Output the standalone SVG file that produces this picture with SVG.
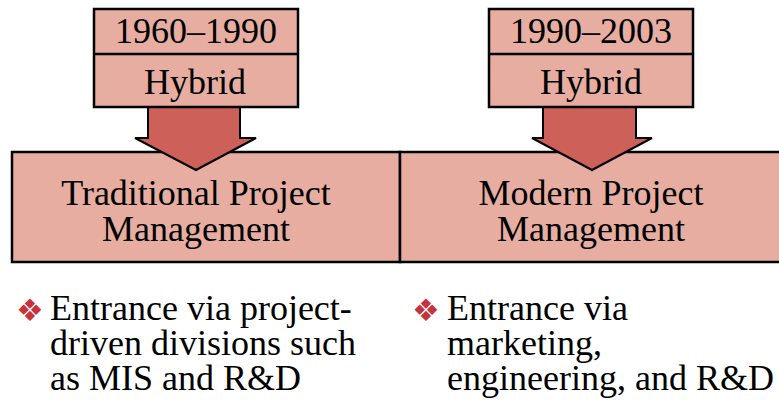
<svg xmlns="http://www.w3.org/2000/svg" width="779" height="403" viewBox="0 0 779 403">
<style>
.box{fill:#E7ADA1;stroke:#000;stroke-width:2.5}
.arrow{fill:#CD6159;stroke:#000;stroke-width:2;stroke-linejoin:miter}
.t{font-family:"Liberation Serif","Times New Roman",serif;font-size:36px;fill:#000}
.c{text-anchor:middle}
.b{font-family:"DejaVu Sans",sans-serif;font-size:31px;fill:#C8323A;text-anchor:middle}
</style>
<rect width="779" height="403" fill="#fff"/>
<g id="traditional">
<rect class="box" x="12" y="152" width="388" height="110"/>
<text class="t c" x="196" y="205">Traditional Project</text>
<text class="t c" x="196" y="241">Management</text>
</g>
<g id="modern">
<rect class="box" x="400" y="152" width="392" height="110"/>
<text class="t c" x="591" y="205">Modern Project</text>
<text class="t c" x="591" y="241">Management</text>
</g>
<g id="connectors">
<polygon class="arrow" points="148,107 240,107 240,138 256,138 196,170 135,138 148,138"/>
<polygon class="arrow" points="543,107 636,107 636,138 652,138 592,170 532,138 543,138"/>
</g>
<g id="hybrid1">
<rect class="box" x="94" y="9" width="204" height="98"/>
<line x1="94" y1="54" x2="298" y2="54" stroke="#000" stroke-width="2.5"/>
<text class="t c" x="196" y="43">1960–1990</text>
<text class="t c" x="195" y="94">Hybrid</text>
</g>
<g id="hybrid2">
<rect class="box" x="489" y="9" width="204" height="98"/>
<line x1="489" y1="54" x2="693" y2="54" stroke="#000" stroke-width="2.5"/>
<text class="t c" x="591" y="43">1990–2003</text>
<text class="t c" x="591" y="94">Hybrid</text>
</g>
<g id="bullet1">
<text class="b" x="30" y="321">❖</text>
<text class="t" x="50" y="320">Entrance via project-</text>
<text class="t" x="50" y="355">driven divisions such</text>
<text class="t" x="50" y="390">as MIS and R&amp;D</text>
</g>
<g id="bullet2">
<text class="b" x="426" y="321">❖</text>
<text class="t" x="447" y="320">Entrance via</text>
<text class="t" x="447" y="355">marketing,</text>
<text class="t" x="447" y="390">engineering, and R&amp;D</text>
</g>
</svg>
